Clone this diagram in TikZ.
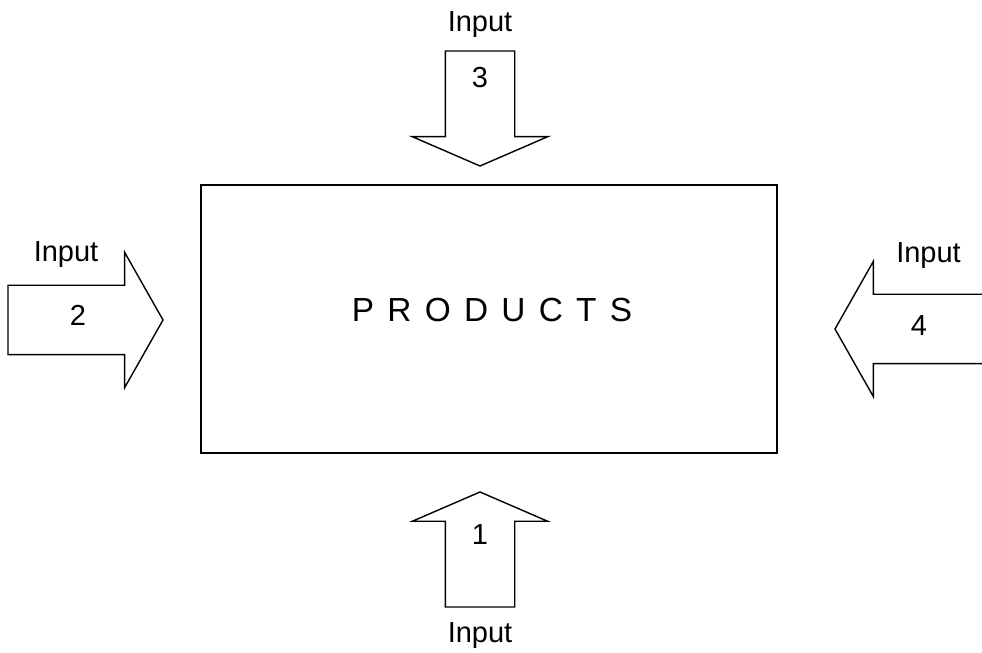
\documentclass[tikz,border=0pt]{standalone}
\usepackage{fontspec}
\setmainfont{Liberation Sans}
\newfontfamily\spacedfont[WordSpace=1.43]{Liberation Sans}
\usetikzlibrary{shapes.arrows}
\tikzset{
  io/box/.style={rectangle, draw=black, line width=1.2pt,
    minimum width=11.52cm, minimum height=5.36cm, inner sep=0pt},
  io/arrow/.style={single arrow, draw=black, fill=white, line width=0.8pt,
    inner xsep=0pt, inner ysep=0.68cm, outer sep=0pt,
    single arrow head extend=0.66cm, anchor=tip},
  io/arrowv/.style={io/arrow, minimum height=2.30cm,
    single arrow tip angle=133.2},
  io/arrowh/.style={io/arrow, minimum height=3.10cm,
    single arrow tip angle=120.9},
  io/lbl/.style={font=\fontsize{16.5}{19}\selectfont, anchor=base,
    inner sep=0pt},
  io/title/.style={font=\spacedfont\fontsize{19}{23}\selectfont,
    anchor=base, inner sep=0pt}
}
\begin{document}
\begin{tikzpicture}[x=1cm, y=1cm]
  \useasboundingbox (0,0) rectangle (19.64,13.06);

  % Caja central
  \node[io/box] at (9.78, 6.68) (prod) {};
  \node[io/title] at (9.84, 6.62) (prodtxt) {P R O D U C T S};

  % --- Flechas de entrada (punta hacia la caja) ---
  \node[io/arrowv, rotate=90]  at (9.60, 3.22) (in1) {};
  \node[io/arrowh]             at (3.26, 6.66) (in2) {};
  \node[io/arrowv, rotate=-90] at (9.60, 9.74) (in3) {};
  \node[io/arrowh, rotate=180] at (16.70, 6.48) (in4) {};

  % Numeros dentro de las flechas
  \node[io/lbl] at (9.60, 2.16) (n1) {1};
  \node[io/lbl] at (1.56, 6.54) (n2) {2};
  \node[io/lbl] at (9.60, 11.30) (n3) {3};
  \node[io/lbl] at (18.38, 6.34) (n4) {4};

  % Rotulos "Input"
  \node[io/lbl] at (9.60, 0.20) (l1) {Input};
  \node[io/lbl] at (1.32, 7.82) (l2) {Input};
  \node[io/lbl] at (9.60, 12.42) (l3) {Input};
  \node[io/lbl] at (18.57, 7.80) (l4) {Input};
\end{tikzpicture}
\end{document}
